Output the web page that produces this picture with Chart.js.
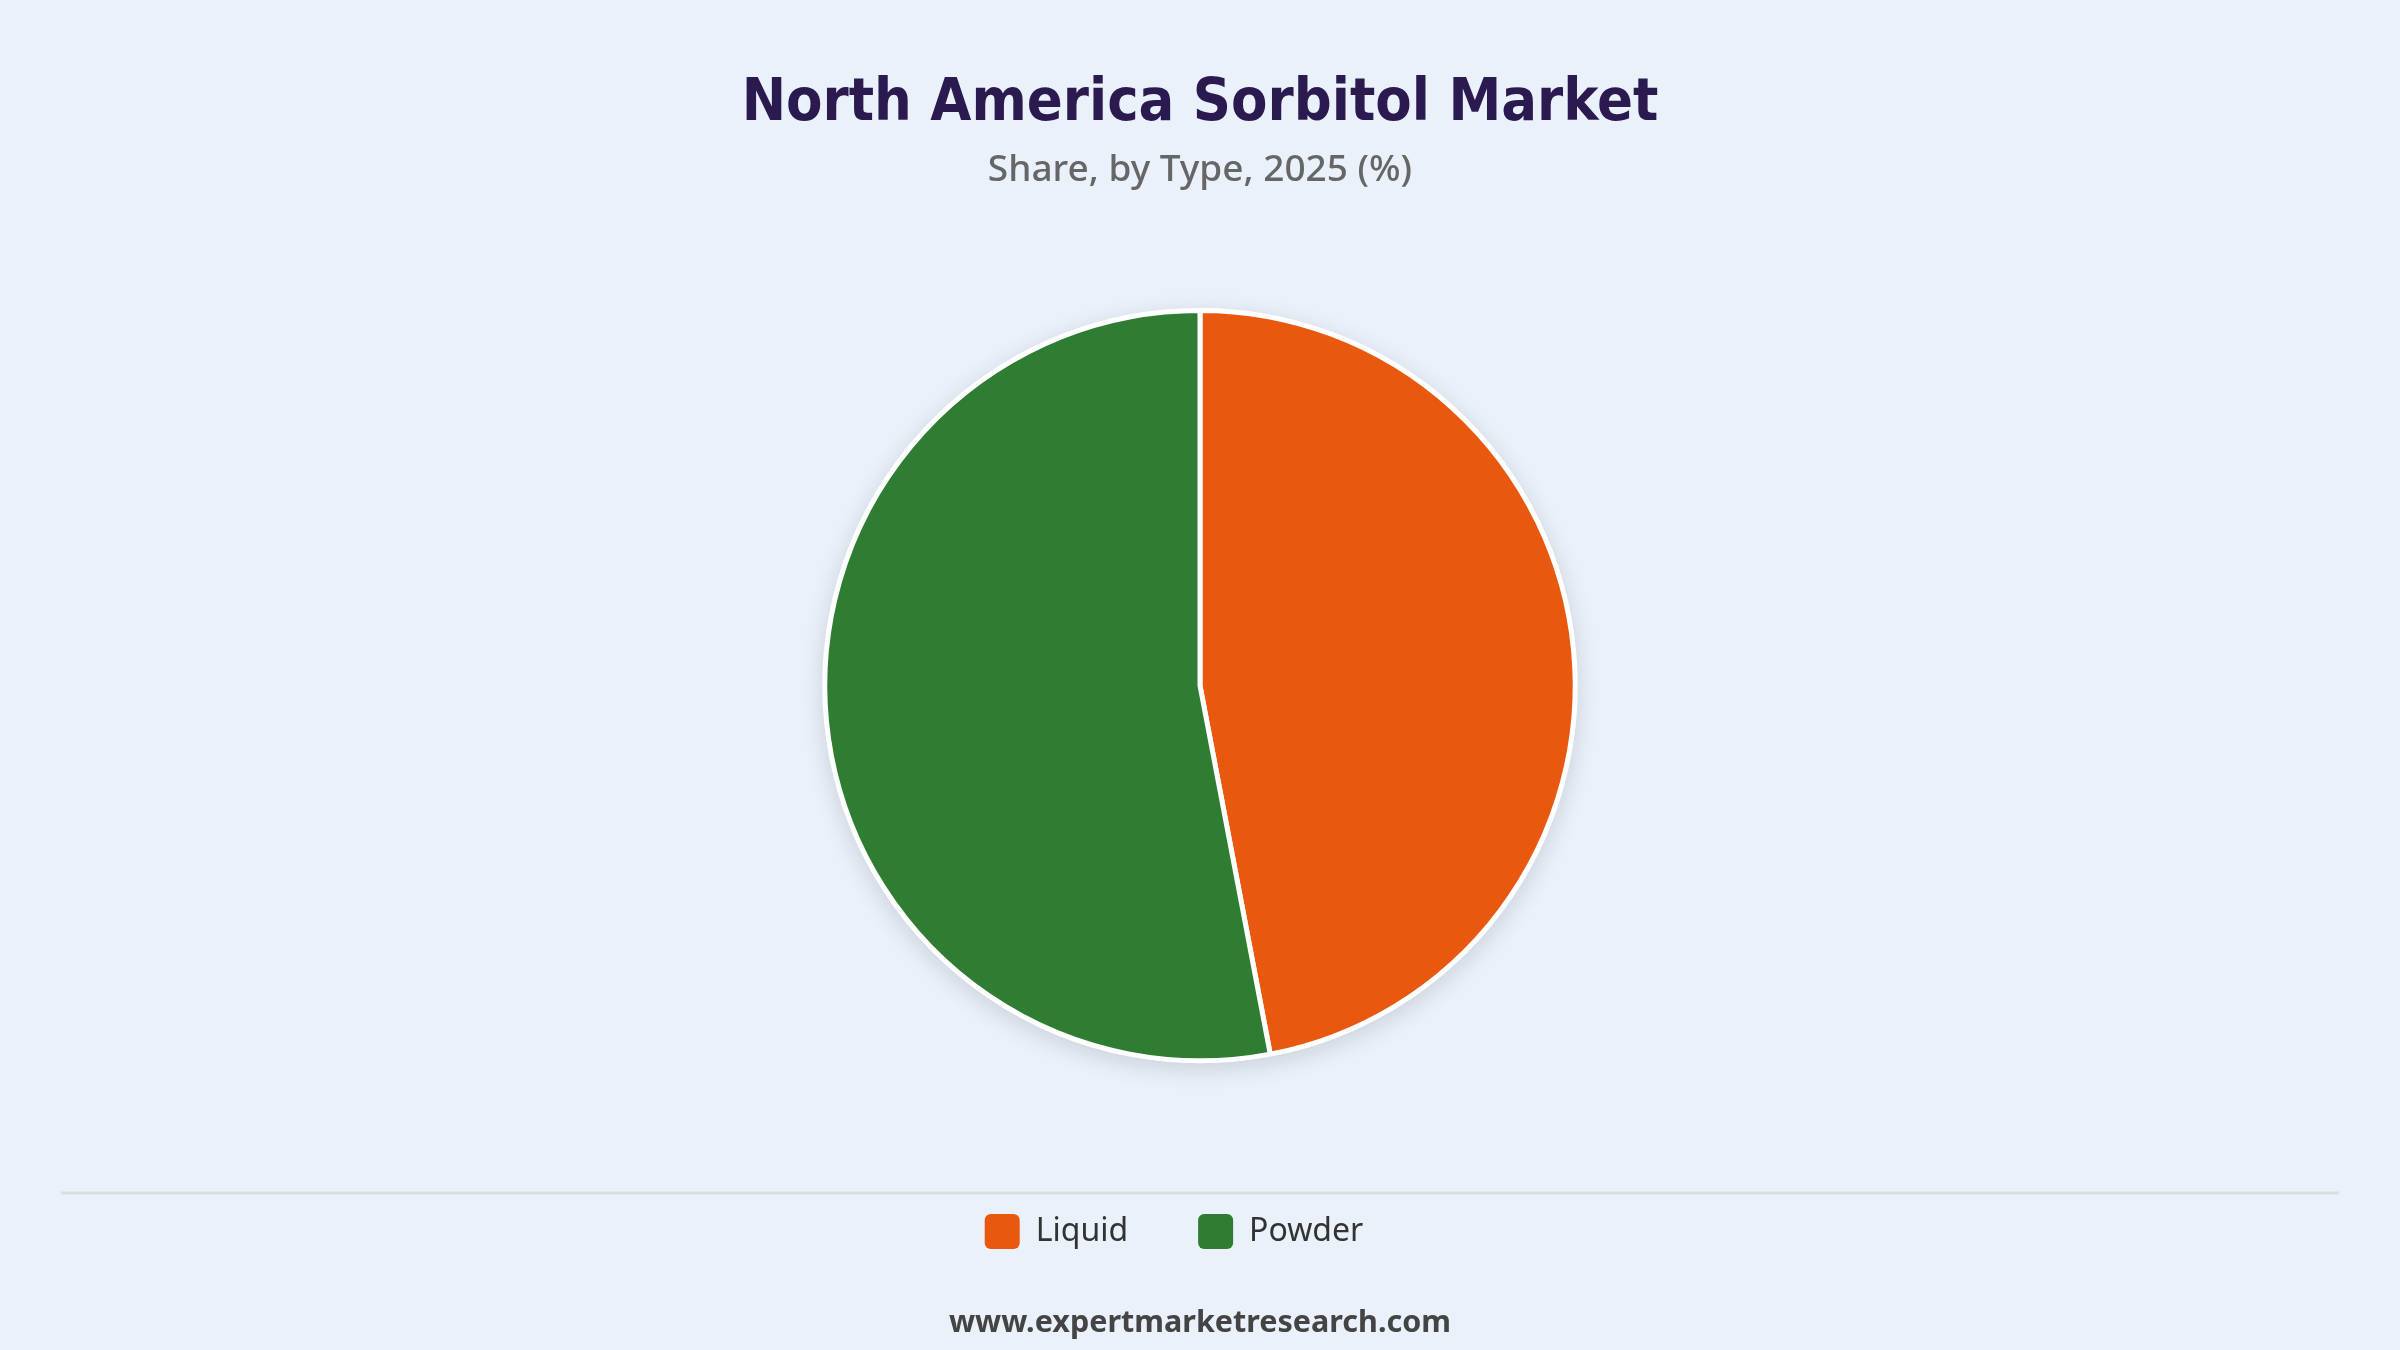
<!DOCTYPE html>
<html>
<head>
<meta charset="utf-8">
<title>North America Sorbitol Market</title>
<script src="https://cdn.jsdelivr.net/npm/chart.js@4"></script>
<style>
  html, body { margin: 0; padding: 0; background: #eaf1fb; }
  #wrap { width: 2400px; height: 1350px; position: relative; }
</style>
</head>
<body>
<div id="wrap"><canvas id="myChart"></canvas></div>
<script>
// Share by type, 2025 (%)
const types = ['Liquid', 'Powder'];
const shares = [47, 53];
const colours = ['#e8580f', '#2e7d32'];

const titleText = 'North America Sorbitol Market';
const subtitleText = 'Share, by Type, 2025 (%)';
const footerText = 'www.expertmarketresearch.com';

// soft shadow under the pie, divider line and site address
const extras = {
  id: 'extras',
  afterLayout(chart) {
    // the original legend sits a little left of centre
    chart.legend.left -= 26;
    chart.legend.right -= 26;
  },
  beforeDatasetsDraw(chart) {
    const arc = chart.getDatasetMeta(0).data[0];
    if (!arc) return;
    const ctx = chart.ctx;
    ctx.save();
    ctx.shadowColor = 'rgba(0, 0, 0, 0.14)';
    ctx.shadowBlur = 24;
    ctx.shadowOffsetY = 6;
    ctx.fillStyle = '#ffffff';
    ctx.beginPath();
    ctx.arc(arc.x, arc.y, arc.outerRadius + 2, 0, Math.PI * 2);
    ctx.fill();
    ctx.restore();
  },
  afterDraw(chart) {
    const ctx = chart.ctx;
    const y = chart.legend.top + 49;
    ctx.save();
    ctx.strokeStyle = '#dddddd';
    ctx.lineWidth = 3;
    ctx.beginPath();
    ctx.moveTo(61, y);
    ctx.lineTo(chart.width - 61, y);
    ctx.stroke();
    ctx.fillStyle = '#444444';
    ctx.font = 'bold 30.5px "Noto Sans", sans-serif';
    ctx.textAlign = 'center';
    ctx.textBaseline = 'middle';
    ctx.fillText(footerText, chart.width / 2, chart.height - 27);
    ctx.restore();
  }
};

const ctx = document.getElementById('myChart').getContext('2d');
const myChart = new Chart(ctx, {
  type: 'pie',
  data: {
    labels: types,
    datasets: [{
      data: shares,
      backgroundColor: colours,
      borderColor: '#ffffff',
      borderWidth: 5,
      radius: '82.3%'
    }]
  },
  options: {
    responsive: true,
    maintainAspectRatio: false,
    animation: false,
    layout: { padding: { top: 0, bottom: 91, left: 0, right: 0 } },
    plugins: {
      title: {
        display: true,
        text: titleText,
        color: '#2a1a4f',
        font: { family: '"DejaVu Sans Condensed", "DejaVu Sans", sans-serif', size: 59, weight: 'bold' },
        padding: { top: 69, bottom: 8 }
      },
      subtitle: {
        display: true,
        text: subtitleText,
        color: '#666666',
        font: { family: '"Noto Sans", sans-serif', size: 37, weight: 500 },
        padding: { top: 0, bottom: 35 }
      },
      legend: {
        position: 'bottom',
        labels: {
          color: '#333333',
          font: { family: '"Noto Sans", sans-serif', size: 32 },
          boxWidth: 35,
          boxHeight: 35,
          useBorderRadius: true,
          borderRadius: 6,
          padding: 70,
          generateLabels(chart) {
            const base = Chart.overrides.doughnut.plugins.legend.labels.generateLabels(chart);
            return base.map(l => Object.assign(l, { lineWidth: 0, strokeStyle: 'rgba(0,0,0,0)' }));
          }
        }
      },
      tooltip: { enabled: false }
    }
  },
  plugins: [extras]
});
</script>
</body>
</html>
